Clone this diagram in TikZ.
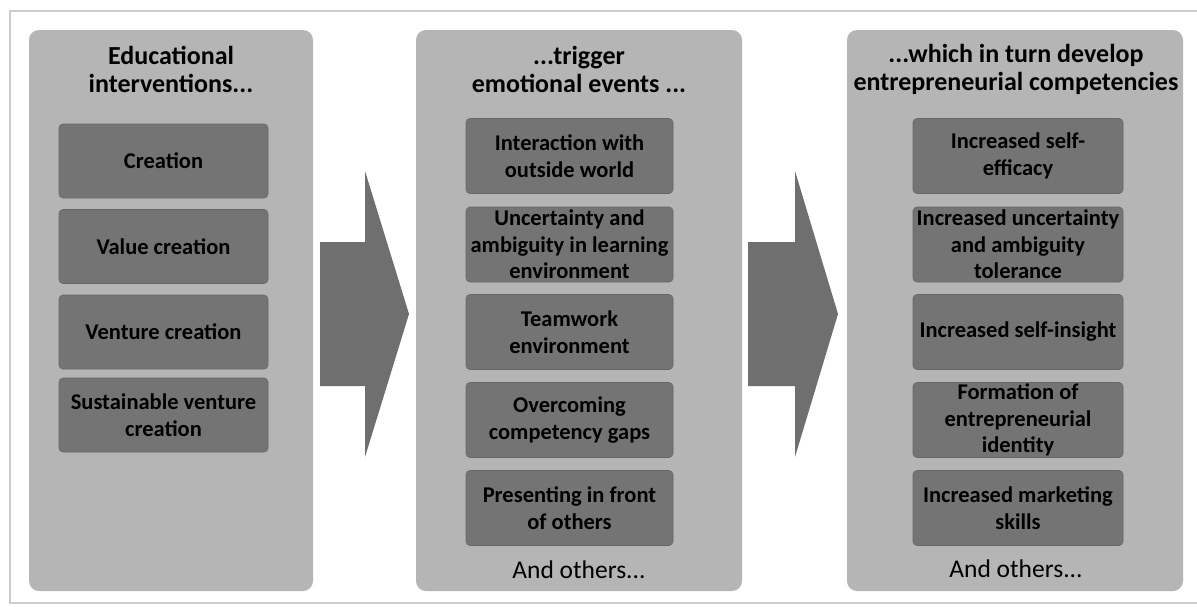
\documentclass[tikz,border=0pt]{standalone}
\usepackage{fontspec}
\setmainfont{Carlito}
\begin{document}
\begin{tikzpicture}[x=1pt,y=-1pt,
  panel/.style={fill=panelgray, rounded corners=10pt},
  inbox/.style={fill=boxgray, draw=boxedge, line width=0.6pt, rounded corners=4pt,
    align=center, inner sep=1pt, font=\bfseries\fontsize{22.5}{26.5}\selectfont},
  title/.style={align=center, font=\bfseries\fontsize{26}{28}\selectfont},
  others/.style={font=\fontsize{25.5}{28}\selectfont},
  bigarrow/.style={fill=arrowgray}]
\definecolor{panelgray}{HTML}{B5B5B5}
\definecolor{boxgray}{HTML}{747474}
\definecolor{boxedge}{HTML}{666666}
\definecolor{arrowgray}{HTML}{6F6F6F}
\useasboundingbox (0,0) rectangle (1197,606);
\fill[white] (0,0) rectangle (1197,606);
% outer frame
\draw[draw=black!20, line width=1.2pt] (10,11) rectangle (1210,603);

% three column panels
\fill[panel] (29,30) rectangle (313,591);
\fill[panel] (416,30) rectangle (742,591);
\fill[panel] (847,30) rectangle (1183,591);

% column headings
\node[title] (t1) at (171,69) {Educational\\interventions...};
\node[title] (t2) at (579,69) {...trigger\\emotional events ...};
\node[title] (t3) at (1016,69) {...which in turn develop\\entrepreneurial competencies};

% interventions
\begin{scope}[every node/.append style={inbox, minimum width=209pt, minimum height=74pt}]
\node (a1) at (163.5,161) {Creation};
\node (a2) at (163.5,246.5) {Value creation};
\node (a3) at (163.5,332) {Venture creation};
\node (a4) at (163.5,415) {Sustainable venture\\creation};
\end{scope}

% emotional events
\begin{scope}[every node/.append style={inbox, minimum width=207pt, minimum height=75pt}]
\node (b1) at (569.5,156) {Interaction with\\outside world};
\node (b2) at (569.5,244.5) {Uncertainty and\\ambiguity in learning\\environment};
\node (b3) at (569.5,332) {Teamwork\\environment};
\node (b4) at (569.5,420) {Overcoming\\competency gaps};
\node (b5) at (569.5,508) {Presenting in front\\of others};
\end{scope}
\node[others] (b6) at (579,570) {And others...};

% competencies
\begin{scope}[every node/.append style={inbox, minimum width=210pt, minimum height=75pt}]
\node (c1) at (1018,156) {Increased self-\\efficacy};
\node (c2) at (1018,244.5) {Increased uncertainty\\and ambiguity\\tolerance};
\node (c3) at (1018,332) {Increased self-insight};
\node (c4) at (1018,420) {Formation of\\entrepreneurial\\identity};
\node (c5) at (1018,508) {Increased marketing\\skills};
\end{scope}
\node[others] (c6) at (1016,569) {And others...};

% block arrows between the columns
\fill[bigarrow] (320,242) -- (365,242) -- (365,171) -- (409,314)
  -- (365,457) -- (365,386) -- (320,386) -- cycle;
\fill[bigarrow] (748,242) -- (795,242) -- (795,171) -- (838,314)
  -- (795,457) -- (795,386) -- (748,386) -- cycle;
\end{tikzpicture}
\end{document}
